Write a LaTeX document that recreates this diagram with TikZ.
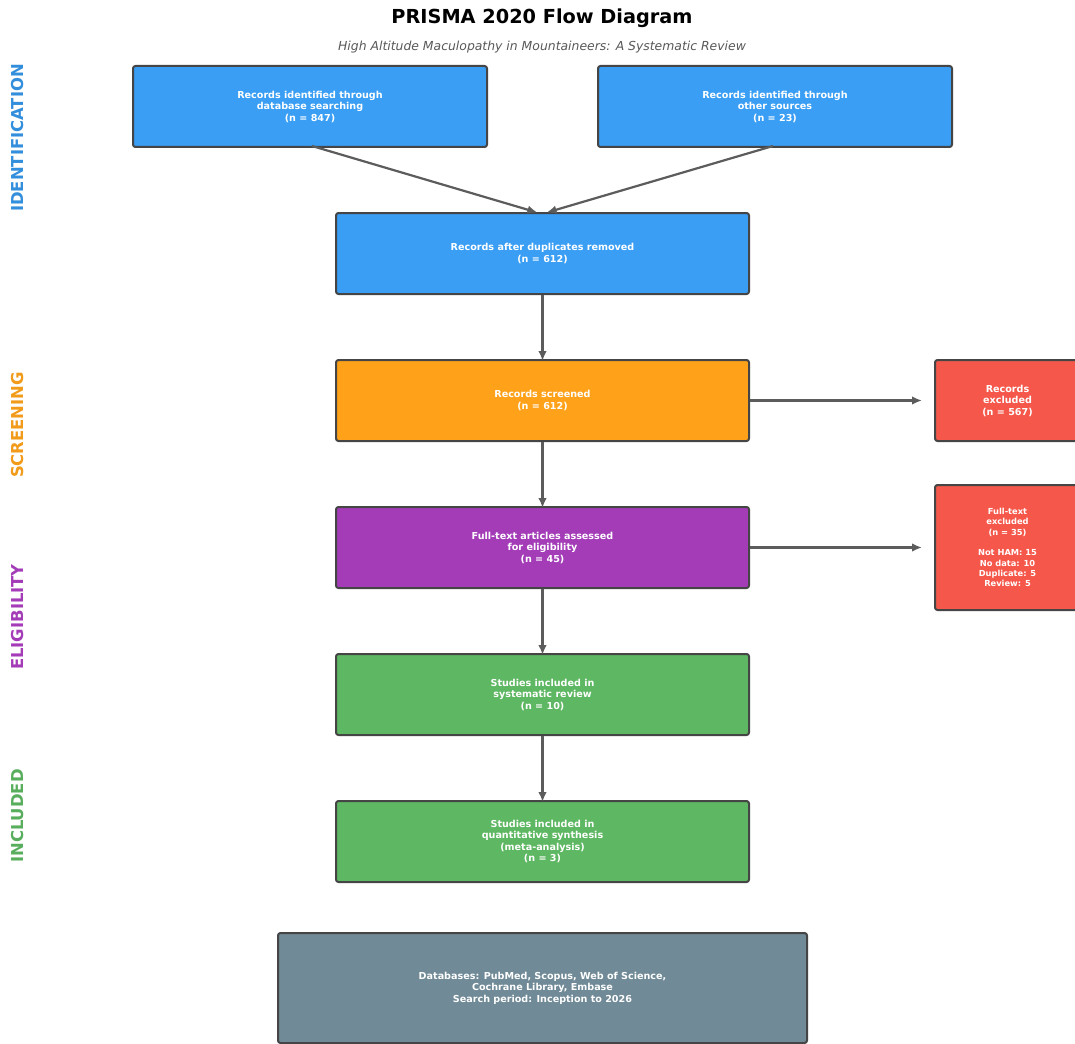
\documentclass[tikz,border=0pt]{standalone}
\usepackage{fontspec}
\setmainfont{DejaVu Sans}
\usetikzlibrary{arrows.meta,positioning}

\definecolor{idblue}{HTML}{399EF4}
\definecolor{scrorange}{HTML}{FFA21A}
\definecolor{elpurple}{HTML}{A43CB8}
\definecolor{exred}{HTML}{F5584B}
\definecolor{incgreen}{HTML}{5EB762}
\definecolor{notegray}{HTML}{708A97}
\definecolor{boxedge}{HTML}{454545}
\definecolor{arrowgray}{HTML}{5C5C5C}

\begin{document}
\begin{tikzpicture}[x=1pt,y=-1pt,
  stage/.style={draw=boxedge,line width=2pt,rounded corners=2.5pt,inner sep=0pt,
    minimum width=413pt,minimum height=81pt,align=center,text=white,
    font=\fontsize{9.6}{11.5}\selectfont\bfseries},
  flow/.style={-{Latex[length=10pt,width=8.5pt]},line width=2.2pt,draw=arrowgray,shorten >=-2pt},
  phase/.style={rotate=90,font=\fontsize{16.4}{18}\selectfont\bfseries}]
\clip (0,0) rectangle (1075,1043);
\fill[white] (0,0) rectangle (1075,1043);

% Title
\node[font=\fontsize{19.3}{22}\selectfont\bfseries] (title) at (542,18) {PRISMA 2020 Flow Diagram};
\node[font=\fontsize{12.4}{14}\selectfont\itshape,text=black!65] (subtitle) at (542,47)
  {High Altitude Maculopathy in Mountaineers: A Systematic Review};

% Phase labels
\node[phase,text=idblue!90!black] (pid) at (18,138) {IDENTIFICATION};
\node[phase,text=scrorange!95!black] (pscr) at (18,425) {SCREENING};
\node[phase,text=elpurple] (pel) at (18,617) {ELIGIBILITY};
\node[phase,text=incgreen!95!black] (pinc) at (18,816) {INCLUDED};

% Identification
\node[stage,fill=idblue,minimum width=354pt] (dbsearch) at (310,106.5)
  {Records identified through\\database searching\\(n = 847)};
\node[stage,fill=idblue,minimum width=354pt] (othersrc) at (775,106.5)
  {Records identified through\\other sources\\(n = 23)};
\node[stage,fill=idblue] (dedup) at (542.5,253.5)
  {Records after duplicates removed\\(n = 612)};

% Screening
\node[stage,fill=scrorange] (screened) at (542.5,400.5)
  {Records screened\\(n = 612)};
\node[stage,fill=exred,minimum width=145pt] (recexcl) at (1007.5,400.5)
  {Records\\excluded\\(n = 567)};

% Eligibility
\node[stage,fill=elpurple] (fulltext) at (542.5,547.5)
  {Full-text articles assessed\\for eligibility\\(n = 45)};
\node[stage,fill=exred,minimum width=145pt,minimum height=125pt,
  font=\fontsize{8.3}{10.3}\selectfont\bfseries] (ftexcl) at (1007.5,547.5)
  {Full-text\\excluded\\(n = 35)\\[10.3pt]Not HAM: 15\\No data: 10\\Duplicate: 5\\Review: 5};

% Included
\node[stage,fill=incgreen] (sysrev) at (542.5,694.5)
  {Studies included in\\systematic review\\(n = 10)};
\node[stage,fill=incgreen] (meta) at (542.5,841.5)
  {Studies included in\\quantitative synthesis\\(meta-analysis)\\(n = 3)};

% Search note
\node[stage,fill=notegray,minimum width=529pt,minimum height=110pt] (dbnote) at (542.5,988)
  {Databases: PubMed, Scopus, Web of Science,\\Cochrane Library, Embase\\Search period: Inception to 2026};

% Arrows
\draw[flow] ([xshift=2pt,yshift=2pt]dbsearch.south) -- ([xshift=-7pt]dedup.north);
\draw[flow] ([xshift=-2pt,yshift=2pt]othersrc.south) -- ([xshift=6pt]dedup.north);
\draw[flow] (dedup) -- (screened);
\draw[flow] (screened) -- (fulltext);
\draw[flow] (fulltext) -- (sysrev);
\draw[flow] (sysrev) -- (meta);
\draw[flow] (screened.east) -- ([xshift=-14pt]recexcl.west);
\draw[flow] (fulltext.east) -- ([xshift=-14pt]ftexcl.west);
\end{tikzpicture}
\end{document}
